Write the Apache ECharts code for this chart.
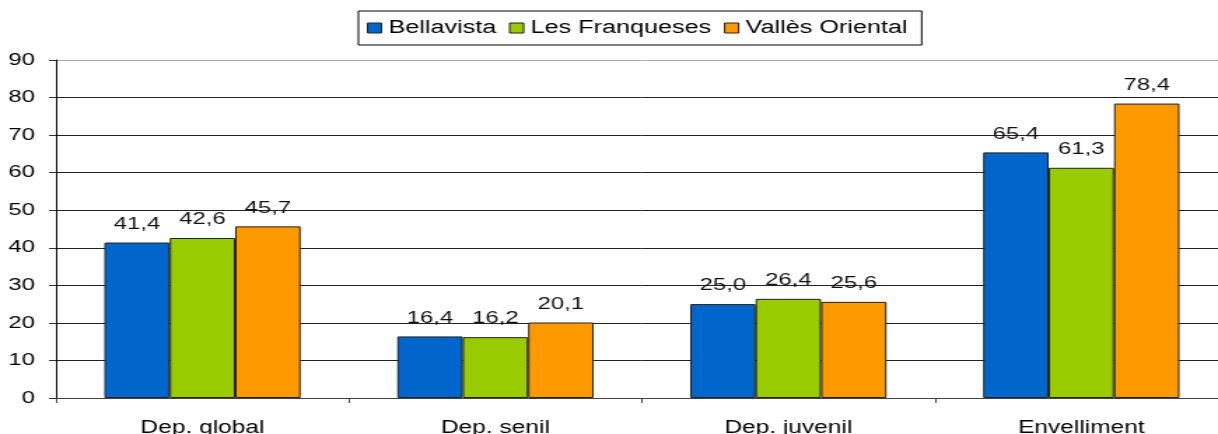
<!DOCTYPE html>
<html>
<head>
<meta charset="utf-8">
<script src="https://cdn.jsdelivr.net/npm/echarts@6/dist/echarts.min.js"></script>
<style>
  html, body { margin: 0; padding: 0; background: #fff; overflow: hidden; }
  /* the reference picture is stretched sideways, so the chart is too */
  #chart { width: 880px; height: 434px; transform: scaleX(1.4); transform-origin: 0 0; }
</style>
</head>
<body>
<div id="chart"></div>
<script>
const categories = ['Dep. global', 'Dep. senil', 'Dep. juvenil', 'Envelliment']
const seriesNames = ['Bellavista', 'Les Franqueses', 'Vallès Oriental']
const bellavista = [41.4, 16.4, 25.0, 65.4]
const lesFranqueses = [42.6, 16.2, 26.4, 61.3]
const vallesOriental = [45.7, 20.1, 25.6, 78.4]
const yTicks = { min: 0, max: 90, interval: 10 }

const colors = ['#0066cc', '#99cc00', '#ff9900']
const font = 'Liberation Sans, Arial, sans-serif'

const chart = echarts.init(document.getElementById('chart'), null, { renderer: 'canvas' })

const makeSeries = (name, values, i) => ({
  name,
  type: 'bar',
  data: values,
  barGap: '0%',
  barCategoryGap: '33%',
  itemStyle: { color: colors[i], borderColor: '#222', borderWidth: 1 },
  label: {
    show: true,
    position: 'top',
    distance: 10,
    fontFamily: font,
    fontSize: 17,
    color: '#111',
    formatter: (p) => p.value.toFixed(1).replace('.', ',')
  }
})

// top grid line is lighter in the reference
const gridColors = ['#222', '#222', '#222', '#222', '#222', '#222', '#222', '#222', '#222', '#aaa']

chart.setOption({
  animation: false,
  // category labels run off the bottom edge in the reference
  grid: { left: 40, right: 3, top: 60, bottom: 36, outerBoundsMode: 'none' },
  legend: {
    data: seriesNames,
    top: 11,
    left: 256,
    padding: [8, 10, 8, 6],
    borderColor: '#000',
    borderWidth: 1,
    itemWidth: 10,
    itemHeight: 10,
    itemGap: 9,
    textStyle: { fontFamily: font, fontSize: 18, color: '#000' },
    icon: 'rect',
    itemStyle: { borderColor: '#222', borderWidth: 1 }
  },
  xAxis: {
    type: 'category',
    data: categories,
    axisLine: { lineStyle: { color: '#444' } },
    axisTick: { show: true, length: 5, lineStyle: { color: '#444' } },
    axisLabel: { fontFamily: font, fontSize: 17.5, color: '#000', margin: 21 }
  },
  yAxis: {
    type: 'value',
    min: yTicks.min,
    max: yTicks.max,
    interval: yTicks.interval,
    axisLine: { show: true, lineStyle: { color: '#000' } },
    axisTick: { show: true, length: 5, lineStyle: { color: '#333' } },
    axisLabel: { fontFamily: font, fontSize: 17, color: '#000', margin: 15 },
    splitLine: { lineStyle: { color: gridColors, width: 1 } }
  },
  series: [
    makeSeries(seriesNames[0], bellavista, 0),
    makeSeries(seriesNames[1], lesFranqueses, 1),
    makeSeries(seriesNames[2], vallesOriental, 2)
  ]
})
</script>
</body>
</html>
